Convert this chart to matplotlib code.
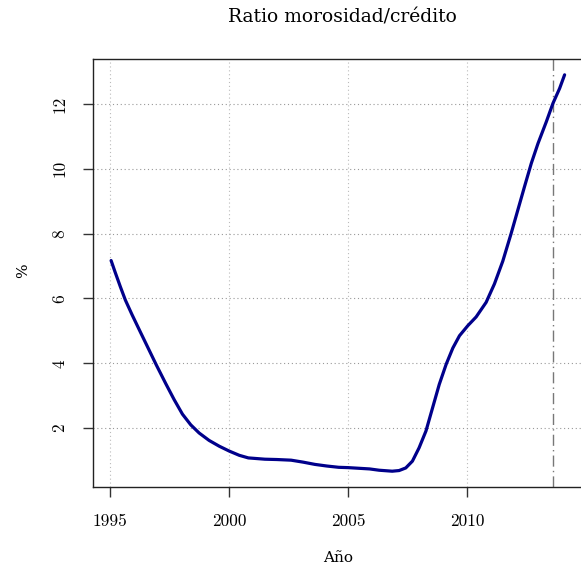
import matplotlib
matplotlib.use("Agg")
import matplotlib.pyplot as plt

# ratio de morosidad (%) por año
years = [1995.03, 1995.2, 1995.42, 1995.63, 1995.91, 1996.27, 1996.62, 1996.93,
         1997.33, 1997.68, 1998.03, 1998.38, 1998.73, 1999.15, 1999.58, 2000.0,
         2000.42, 2000.8, 2001.5, 2002.0, 2002.6, 2003.1, 2003.6, 2004.1,
         2004.6, 2005.0, 2005.45, 2005.9, 2006.3, 2006.85, 2007.14, 2007.42,
         2007.7, 2007.98, 2008.27, 2008.55, 2008.83, 2009.12, 2009.4, 2009.68,
         2010.03, 2010.38, 2010.8, 2011.15, 2011.5, 2011.85, 2012.13, 2012.41,
         2012.7, 2012.98, 2013.33, 2013.61, 2013.89, 2014.1]
ratio = [7.17, 6.81, 6.36, 5.95, 5.50, 4.95, 4.42, 3.95,
         3.37, 2.88, 2.43, 2.10, 1.85, 1.62, 1.44, 1.29,
         1.16, 1.08, 1.04, 1.03, 1.01, 0.95, 0.88, 0.83,
         0.79, 0.78, 0.76, 0.74, 0.70, 0.67, 0.69, 0.77,
         0.98, 1.39, 1.91, 2.63, 3.35, 3.97, 4.47, 4.85,
         5.16, 5.43, 5.88, 6.45, 7.15, 8.0, 8.72, 9.44,
         10.17, 10.78, 11.45, 12.02, 12.48, 12.9]
x_ticks = [1995, 2000, 2005, 2010]
y_ticks = [2, 4, 6, 8, 10, 12]
corte = 2013.6

serif = ["DejaVu Serif"]
tick_font = ["cmr10", "DejaVu Serif"]

fig = plt.figure(figsize=(5.81, 5.67), dpi=100)
ax = fig.add_axes([0.160, 0.141, 0.843, 0.755])

ax.plot(years, ratio, color="#00008b", lw=2.3, solid_capstyle="round",
        solid_joinstyle="round", zorder=3)
ax.axvline(corte, color="#777777", lw=1.0, linestyle=(0, (8, 3, 1, 3)), zorder=2)

for x in x_ticks:
    ax.axvline(x, color="#bbbbbb", lw=0.8, linestyle=(0, (1, 2.5)), zorder=1)
for y in y_ticks:
    ax.axhline(y, color="#999999", lw=0.8, linestyle=(0, (1, 2.5)), zorder=1)

xr = years[-1] - years[0]
yr = max(ratio) - min(ratio)
ax.set_xlim(years[0] - 0.04 * xr, years[-1] + 0.04 * xr)
ax.set_ylim(min(ratio) - 0.04 * yr, max(ratio) + 0.04 * yr)

ax.set_xticks(x_ticks)
ax.set_yticks(y_ticks)
ax.set_xticklabels([str(v) for v in x_ticks], family=tick_font, fontsize=12.5)
ax.set_yticklabels([str(v) for v in y_ticks], family=tick_font, fontsize=12.5,
                   rotation=90, va="center")
ax.tick_params(direction="out", length=7, width=1, color="#333333")
ax.tick_params(axis="x", pad=12.5)
ax.tick_params(axis="y", pad=11.5)
for s in ax.spines.values():
    s.set_linewidth(1.0)
    s.set_color("#222222")

fig.text(0.590, 0.970, "Ratio morosidad/crédito", ha="center", va="center",
         family=serif, fontsize=13.5)
fig.text(0.582, 0.016, "Año", ha="center", va="center", family=serif, fontsize=11)
fig.text(0.040, 0.523, "%", ha="center", va="center", rotation=90,
         family=serif, fontsize=11)

fig.savefig("out.png", dpi=100)
